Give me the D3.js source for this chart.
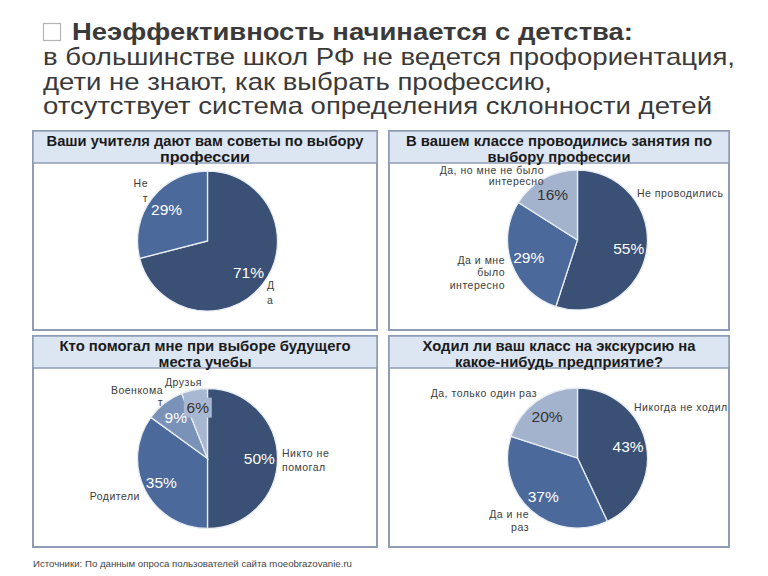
<!DOCTYPE html>
<html><head><meta charset="utf-8">
<script src="https://cdn.jsdelivr.net/npm/d3@7"></script>
<style>
html,body{margin:0;padding:0;background:#fff;}
svg{display:block;}
</style></head>
<body>
<svg id="c" width="768" height="576"></svg>
<script>
// ---- text ----
const headingBold = "Неэффективность начинается с детства:";
const headingLines = [
  "в большинстве школ РФ не ведется профориентация,",
  "дети не знают, как выбрать профессию,",
  "отсутствует система определения склонности детей"
];
const sourceText = "Источники: По данным опроса пользователей сайта moeobrazovanie.ru";

// ---- chart 1 ----
const c1Title = ["Ваши учителя дают вам советы по выбору", "профессии"];
const c1Labels = ["Да", "Нет"];
const c1Values = [71, 29];

// ---- chart 2 ----
const c2Title = ["В вашем классе проводились занятия по", "выбору профессии"];
const c2Labels = ["Не проводились", "Да и мне было интересно", "Да, но мне не было интересно"];
const c2Values = [55, 29, 16];

// ---- chart 3 ----
const c3Title = ["Кто помогал мне при выборе будущего", "места учебы"];
const c3Labels = ["Никто не помогал", "Родители", "Военкомат", "Друзья"];
const c3Values = [50, 35, 9, 6];

// ---- chart 4 ----
const c4Title = ["Ходил ли ваш класс на экскурсию на", "какое-нибудь предприятие?"];
const c4Labels = ["Никогда не ходил", "Да и не раз", "Да, только один раз"];
const c4Values = [43, 37, 20];

// ---- layout / style (not data) ----
const DARK = "#3a5074", MED = "#4b6a9b", LIGHT = "#a3b3cd", MID2 = "#7a92b8", LIGHT2 = "#a9b8d2";
const charts = [
  {title:c1Title, labels:c1Labels, values:c1Values, box:[33,131,377,330], cx:207.5, cy:241,
   colors:[DARK, MED], pctColor:["#fff","#fff"], pctBg:[false,false],
   catLines:[["Д","а"],["Не","т"]],
   cat:[{dx:59.5,dy:48,lh:14.5,a:"start"},{dx:-59.5,dy:-54,lh:15,a:"end"}],
   titleW:[317,90]},
  {title:c2Title, labels:c2Labels, values:c2Values, box:[389,131,729,330], cx:577.5, cy:240,
   colors:[DARK, MED, LIGHT], pctColor:["#fff","#fff","#333"], pctBg:[false,false,false],
   catLines:[["Не проводились"],["Да и мне","было","интересно"],["Да, но мне не было","интересно"]],
   cat:[{dx:59.5,dy:-43,lh:12,a:"start"},{dx:-72.5,dy:24,lh:12.3,a:"end"},{dx:-33.5,dy:-66.5,lh:11,a:"end"}],
   titleW:[306,143]},
  {title:c3Title, labels:c3Labels, values:c3Values, box:[33,336,377,547], cx:207.5, cy:458.5,
   colors:[DARK, MED, MID2, LIGHT2], pctColor:["#fff","#fff","#fff","#333"], pctBg:[false,false,false,true],
   catLines:[["Никто не","помогал"],["Родители"],["Военкома","т"],["Друзья"]],
   cat:[{dx:74.5,dy:-1.5,lh:14,a:"start"},{dx:-67.5,dy:41.5,lh:12,a:"end"},{dx:-44.5,dy:-64.5,lh:11.5,a:"end"},{dx:-42.5,dy:-72.5,lh:12,a:"start"}],
   titleW:[291,93]},
  {title:c4Title, labels:c4Labels, values:c4Values, box:[389,336,729,547], cx:577.5, cy:458,
   colors:[DARK, MED, LIGHT], pctColor:["#fff","#fff","#333"], pctBg:[false,false,false],
   catLines:[["Никогда не ходил"],["Да и не","раз"],["Да, только один раз"]],
   cat:[{dx:56.5,dy:-47,lh:12,a:"start"},{dx:-48.5,dy:60,lh:13,a:"end"},{dx:-40.5,dy:-61,lh:12,a:"end"}],
   titleW:[273,208]}
];
const R = 70;

const svg = d3.select("#c");
const FONT = "'Liberation Sans', Arial, sans-serif";

// heading
svg.append("rect").attr("x",43.5).attr("y",23.5).attr("width",17).attr("height",17)
  .attr("fill","none").attr("stroke","#b5b5b5").attr("stroke-width",1.2);
svg.append("text").attr("x",72).attr("y",40).attr("font-family",FONT).attr("font-size",24)
  .attr("font-weight","bold").attr("fill","#3a3a3a")
  .attr("textLength",561).attr("lengthAdjust","spacingAndGlyphs").text(headingBold);
const hw = [692, 509, 669];
headingLines.forEach((t,i)=>{
  svg.append("text").attr("x",43).attr("y",65+i*24.5).attr("font-family",FONT).attr("font-size",24)
    .attr("fill","#3a3a3a").attr("textLength",hw[i]).attr("lengthAdjust","spacingAndGlyphs").text(t);
});

const pie = d3.pie().sort(null).value(d=>d);
const arc = d3.arc().innerRadius(0).outerRadius(R);
const labelArc = d3.arc().innerRadius(R*0.74).outerRadius(R*0.74);

charts.forEach(ch=>{
  const [x0,y0,x1,y1] = ch.box;
  const g = svg.append("g");
  // panel body
  g.append("rect").attr("x",x0).attr("y",y0).attr("width",x1-x0).attr("height",y1-y0)
    .attr("fill","#fff").attr("stroke","#8f9cb4").attr("stroke-width",2);
  const pg = g.append("g").attr("transform",`translate(${ch.cx},${ch.cy})`);
  const arcs = pie(ch.values);
  pg.selectAll("path").data(arcs).join("path")
    .attr("d",arc).attr("fill",(d,i)=>ch.colors[i])
    .attr("stroke","#e8edf4").attr("stroke-width",1.3);
  // label background boxes where the reference shows them
  pg.selectAll("rect.pbg").data(arcs.filter((d,i)=>ch.pctBg[i])).join("rect").attr("class","pbg")
    .attr("x",d=>labelArc.centroid(d)[0]-14).attr("y",d=>labelArc.centroid(d)[1]-10)
    .attr("width",28).attr("height",20)
    .attr("fill",d=>ch.colors[d.index]);
  pg.selectAll("text.pct").data(arcs).join("text").attr("class","pct")
    .attr("transform",d=>`translate(${labelArc.centroid(d)})`)
    .attr("text-anchor","middle").attr("dy","0.36em")
    .attr("font-family",FONT).attr("font-size",15.5)
    .attr("fill",(d,i)=>ch.pctColor[i])
    .text(d=>d.data+"%");
  // category labels
  ch.labels.forEach((lab,i)=>{
    const c = ch.cat[i];
    const t = pg.append("text").attr("font-family",FONT).attr("font-size",10.5)
      .attr("letter-spacing",0.5).attr("fill","#3c3c3c").attr("text-anchor",c.a);
    ch.catLines[i].forEach((ln,k)=>{
      t.append("tspan").attr("x",c.dx).attr("y",c.dy+k*c.lh).text(ln);
    });
  });
  // title bar
  g.append("rect").attr("x",x0).attr("y",y0).attr("width",x1-x0).attr("height",32)
    .attr("fill","#dce6f2").attr("stroke","#8f9cb4").attr("stroke-width",1.5);
  const mx = (x0+x1)/2;
  ch.title.forEach((ln,k)=>{
    g.append("text").attr("x",mx).attr("y",y0+14.5+k*16).attr("text-anchor","middle")
      .attr("font-family",FONT).attr("font-size",14).attr("font-weight","bold").attr("fill","#1a1a1a")
      .attr("textLength",ch.titleW[k]).attr("lengthAdjust","spacingAndGlyphs").text(ln);
  });
});

svg.append("text").attr("x",33).attr("y",567).attr("font-family",FONT).attr("font-size",9.5)
  .attr("fill","#444").attr("textLength",319).attr("lengthAdjust","spacingAndGlyphs").text(sourceText);
</script>
</body></html>
